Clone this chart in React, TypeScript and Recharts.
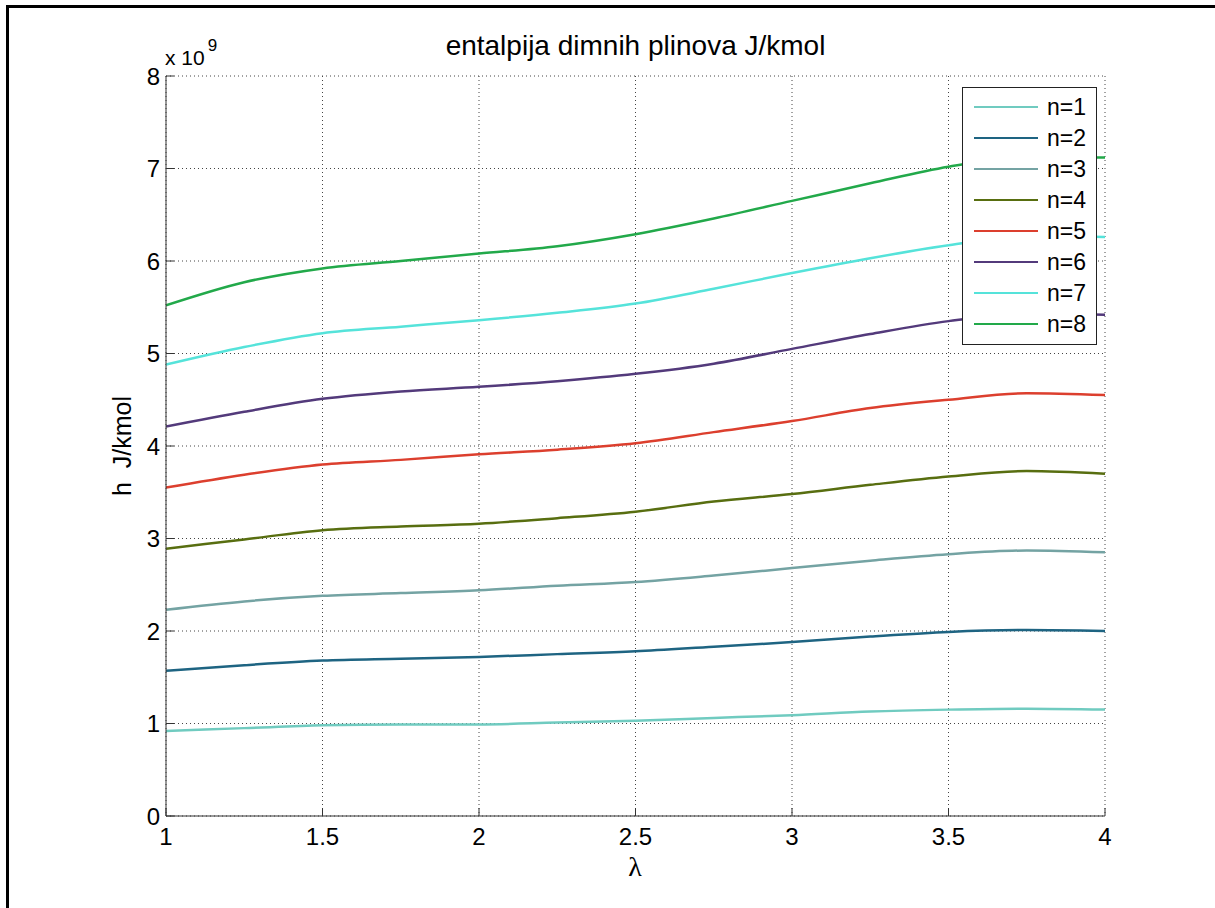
import React from 'react';
import { LineChart, Line, XAxis, YAxis, CartesianGrid, Legend } from 'recharts';

// lambda values (x axis)
const LAMBDA = [1, 1.25, 1.5, 1.75, 2, 2.25, 2.5, 2.75, 3, 3.25, 3.5, 3.75, 4];

// enthalpy, in units of 1e9 J/kmol, one list per n
const N1 = [0.92, 0.95, 0.98, 0.99, 0.99, 1.01, 1.03, 1.06, 1.09, 1.13, 1.15, 1.16, 1.15];
const N2 = [1.57, 1.63, 1.68, 1.70, 1.72, 1.75, 1.78, 1.83, 1.88, 1.94, 1.99, 2.01, 2.0];
const N3 = [2.23, 2.32, 2.38, 2.41, 2.44, 2.49, 2.53, 2.6, 2.68, 2.76, 2.83, 2.87, 2.85];
const N4 = [2.89, 2.99, 3.09, 3.13, 3.16, 3.22, 3.29, 3.4, 3.48, 3.58, 3.67, 3.73, 3.7];
const N5 = [3.55, 3.69, 3.8, 3.85, 3.91, 3.96, 4.03, 4.15, 4.27, 4.41, 4.5, 4.57, 4.55];
const N6 = [4.21, 4.37, 4.51, 4.59, 4.64, 4.7, 4.78, 4.89, 5.05, 5.21, 5.35, 5.43, 5.42];
const N7 = [4.88, 5.07, 5.22, 5.29, 5.36, 5.44, 5.54, 5.7, 5.87, 6.03, 6.17, 6.27, 6.26];
const N8 = [5.52, 5.77, 5.92, 6.0, 6.08, 6.16, 6.29, 6.46, 6.65, 6.84, 7.02, 7.12, 7.12];

const SERIES_NAMES = ['n=1', 'n=2', 'n=3', 'n=4', 'n=5', 'n=6', 'n=7', 'n=8'];
const SERIES_VALUES = [N1, N2, N3, N4, N5, N6, N7, N8];
const COLORS = ['#70CBC0', '#1E6482', '#74A3A3', '#586E10', '#DC3F2E', '#533A7B', '#55E3DA', '#22A94A'];

const X_TICKS = [1, 1.5, 2, 2.5, 3, 3.5, 4];
const Y_TICKS = [0, 1, 2, 3, 4, 5, 6, 7, 8];

const data = LAMBDA.map((x, i) => {
  const row: Record<string, number> = { x };
  SERIES_NAMES.forEach((name, s) => {
    row[name] = SERIES_VALUES[s][i];
  });
  return row;
});

const FONT = '"Liberation Sans", Arial, Helvetica, sans-serif';
const AXIS = '#333';
const tickStyle = { fontSize: 24, fill: '#000', fontFamily: FONT };

function LegendBox({ payload }: { payload?: Array<{ value: string; color: string }> }) {
  if (!payload) return null;
  return (
    <div style={{ width: 135, height: 258, border: '1px solid #222', background: '#fff', boxSizing: 'border-box', fontFamily: FONT, position: 'relative' }}>
      {payload.map((p, i) => (
        <div key={`lg-${p.value}`} style={{ position: 'absolute', left: 0, top: 19 + 31 * i - 15, height: 30, display: 'flex', alignItems: 'center' }}>
          <div style={{ marginLeft: 11, width: 64, height: 2, background: p.color }} />
          <span style={{ marginLeft: 9, fontSize: 23, color: '#000', lineHeight: '30px' }}>{p.value}</span>
        </div>
      ))}
    </div>
  );
}

export default function App() {
  return (
    <div style={{ position: 'absolute', left: 0, top: 0, width: 1215, height: 908, background: '#fff', overflow: 'hidden', fontFamily: FONT }}>
      <div style={{ position: 'absolute', left: 6, top: 5, width: 1215, height: 908, borderLeft: '3px solid #000', borderTop: '3px solid #000' }} />

      <LineChart width={1215} height={908} data={data} margin={{ top: 76, right: 110, bottom: 52, left: 106 }}>
        <CartesianGrid stroke="#444" strokeDasharray="1 3" />
        <XAxis
          dataKey="x" type="number" domain={[1, 4]} ticks={X_TICKS} allowDataOverflow
          height={40} tick={tickStyle} tickSize={-8} tickMargin={20}
          stroke={AXIS} axisLine={{ stroke: AXIS }} tickLine={{ stroke: AXIS }}
        />
        <XAxis
          xAxisId="top" orientation="top" type="number" domain={[1, 4]} ticks={X_TICKS}
          height={0} tick={false} tickSize={-8} stroke={AXIS}
        />
        <YAxis
          type="number" domain={[0, 8]} ticks={Y_TICKS} allowDataOverflow
          width={60} tick={tickStyle} tickSize={-8} tickMargin={14}
          stroke={AXIS} axisLine={{ stroke: AXIS }} tickLine={{ stroke: AXIS }}
        />
        <YAxis
          yAxisId="right" orientation="right" type="number" domain={[0, 8]} ticks={Y_TICKS}
          width={0} tick={false} tickSize={-8} stroke={AXIS}
        />
        <Legend
          layout="vertical" align="center" verticalAlign="middle"
          wrapperStyle={{ left: 962, top: 87, width: 135, height: 258 }}
          content={<LegendBox />}
        />
        {SERIES_NAMES.map((name, s) => (
          <Line
            key={name} type="monotone" dataKey={name} name={name}
            stroke={COLORS[s]} strokeWidth={2.5} dot={false} isAnimationActive={false}
          />
        ))}
      </LineChart>

      <div style={{ position: 'absolute', left: 166, width: 939, top: 31, textAlign: 'center', fontSize: 28, lineHeight: '30px', color: '#000' }}>
        entalpija dimnih plinova J/kmol
      </div>

      <div style={{ position: 'absolute', left: 165, top: 46, fontSize: 21, lineHeight: '24px', color: '#000', whiteSpace: 'nowrap' }}>
        x 10<span style={{ fontSize: 17, position: 'relative', top: -14, marginLeft: 3 }}>9</span>
      </div>

      <div style={{ position: 'absolute', left: 22, top: 431, width: 200, height: 30, lineHeight: '30px', textAlign: 'center', fontSize: 25, color: '#000', transform: 'rotate(-90deg)', whiteSpace: 'pre' }}>
        {'h  J/kmol'}
      </div>

      <div style={{ position: 'absolute', left: 535, width: 200, top: 852, height: 30, lineHeight: '30px', textAlign: 'center', fontSize: 28, color: '#000', fontFamily: '"Liberation Serif", "DejaVu Serif", serif' }}>
        λ
      </div>
    </div>
  );
}
